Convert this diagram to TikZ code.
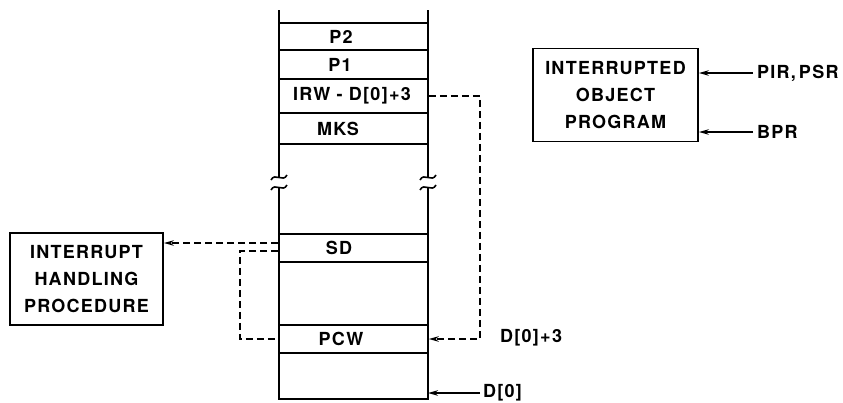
\documentclass[tikz,border=0pt]{standalone}
\usepackage{fontspec}
\setmainfont{TeX Gyre Heros}[LetterSpace=7]
\usetikzlibrary{arrows.meta,calc}
\begin{document}
\begin{tikzpicture}[x=1pt,y=-1pt,
 lw/.style={line width=1.6pt},
 cellbox/.style={draw,line width=1.6pt,minimum width=149pt,inner sep=0pt},
 lbl/.style={font=\bfseries\fontsize{18}{27}\selectfont,inner sep=0pt},
 box/.style={draw,line width=1.8pt,inner sep=0pt,align=center,font=\bfseries\fontsize{18}{27}\selectfont},
 dsh/.style={dash pattern=on 7pt off 4pt,line width=1.5pt},
 tip/.style={-{Stealth[length=10pt,width=5.5pt]}}]
\useasboundingbox (0,0) rectangle (843,402);
% stack cells
\node[cellbox,minimum height=27pt] (p2) at (353.5,36.5) {};
\node[cellbox,minimum height=29pt] (p1) at (353.5,64.5) {};
\node[cellbox,minimum height=34pt] (irw) at (353.5,96) {};
\node[cellbox,minimum height=31pt] (mks) at (353.5,128.5) {};
\node[cellbox,minimum height=28pt] (sd) at (353.5,248) {};
\node[cellbox,minimum height=28pt] (pcw) at (353.5,339) {};
\node[lbl] (tp2) at (341,36.5) {P2};
\node[lbl] (tp1) at (340,64.5) {P1};
\node[lbl] (tirw) at (352,96) {IRW - D[0]+3};
\node[lbl] (tmks) at (338,128.5) {MKS};
\node[lbl] (tsd) at (339,248) {SD};
\node[lbl] (tpcw) at (341,339) {PCW};
% stack walls
\coordinate (tl) at (279,10);
\coordinate (tr) at (428,10);
\coordinate (bl) at (279,399);
\coordinate (br) at (428,399);
\coordinate (lb1) at (279,177);
\coordinate (lb2) at (279,187);
\coordinate (rb1) at (428,177);
\coordinate (rb2) at (428,187);
\draw[lw] (tl) -- (lb1);
\draw[lw] (tr) -- (rb1);
\draw[lw] (lb2) -- (bl) -- (br) -- (rb2);
\foreach \c in {lb1,rb1,lb2,rb2}{
  \draw[lw] ($(\c)+(-8,3)$) .. controls ($(\c)+(-4,-5)$) and ($(\c)+(4,6)$) .. ($(\c)+(8,-2)$);
}
% boxes
\node[box,minimum width=153pt,minimum height=92pt] (ihp) at (86.5,279) {INTERRUPT\\HANDLING\\PROCEDURE};
\node[box,minimum width=165pt,minimum height=93pt] (iop) at (615.5,95) {INTERRUPTED\\OBJECT\\PROGRAM};
% right labels
\node[lbl,anchor=west] (pir) at (757,73) {PIR,\,PSR};
\node[lbl,anchor=west] (bpr) at (757,132) {BPR};
\draw[lw,tip,shorten <=4pt] (pir.west) -- (pir.west -| iop.east);
\draw[lw,tip,shorten <=4pt] (bpr.west) -- (bpr.west -| iop.east);
\node[lbl,anchor=west] (d3) at (500,338) {D[0]+3};
\node[lbl,anchor=west] (d0) at (483,393) {D[0]};
\draw[lw,tip,shorten <=3pt] (d0.west) -- (d0.west -| br);
% dashed connectors
\coordinate (cr) at (480,96);
\draw[dsh,tip] (irw.east) -- (cr) |- (pcw.east);
\draw[dsh,tip] ([yshift=5pt]sd.west) -- ([yshift=5pt]sd.west -| ihp.east);
\coordinate (cl) at (240,251);
\draw[dsh] ([yshift=-3pt]sd.west) -- (cl) |- (pcw.west);
\end{tikzpicture}
\end{document}
